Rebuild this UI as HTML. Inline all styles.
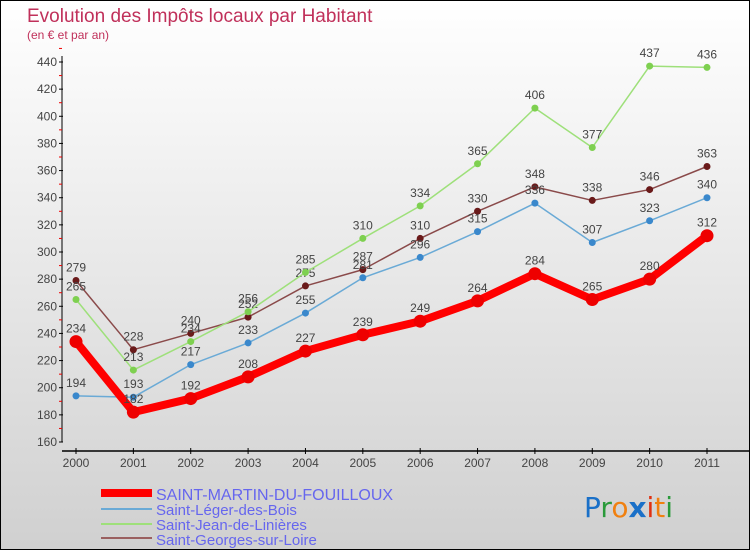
<!DOCTYPE html>
<html><head><meta charset="utf-8"><style>
body{margin:0}
#c{width:748px;height:548px;border:1px solid #000;background:linear-gradient(#fff,#d0d0d0);position:relative;font-family:"Liberation Sans",sans-serif;overflow:hidden}
</style></head><body>
<div id="c">
<svg id="s" width="748" height="548" style="position:absolute;left:0;top:0">
<text x="26" y="21" font-size="19" fill="#c0305a">Evolution des Impôts locaux par Habitant</text>
<text x="26" y="38" font-size="12" fill="#c0305a">(en € et par an)</text>
<g id="axes"></g><g id="series"></g>
<g>
<line x1="100" y1="492" x2="151" y2="492" stroke="#f00" stroke-width="8"/>
<text x="155" y="499" font-size="16" fill="#6666ee">SAINT-MARTIN-DU-FOUILLOUX</text>
<line x1="100" y1="508" x2="151" y2="508" stroke="#6aaad6" stroke-width="2"/>
<text x="155" y="514" font-size="15" fill="#6666ee">Saint-Léger-des-Bois</text>
<line x1="100" y1="523" x2="151" y2="523" stroke="#9ee07a" stroke-width="2"/>
<text x="155" y="529" font-size="15" fill="#6666ee">Saint-Jean-de-Linières</text>
<line x1="100" y1="537" x2="151" y2="537" stroke="#9a6060" stroke-width="2"/>
<text x="155" y="544" font-size="15" fill="#6666ee">Saint-Georges-sur-Loire</text>
</g>
<g font-size="28" font-family="'DejaVu Sans',sans-serif">
<text x="583" y="516"><tspan fill="#1a70c8">P</tspan><tspan fill="#2a9a3a">r</tspan><tspan fill="#f08010">o</tspan><tspan fill="#1a70c8" font-weight="bold">x</tspan><tspan fill="#e03010">i</tspan><tspan fill="#f08010">t</tspan><tspan fill="#2a9a3a">i</tspan></text>
</g>
</svg>
</div>
<script>
const years=["2000","2001","2002","2003","2004","2005","2006","2007","2008","2009","2010","2011"];
const yTicks=[160,180,200,220,240,260,280,300,320,340,360,380,400,420,440];
const martin=[234,182,192,208,227,239,249,264,284,265,280,312];
const leger=[194,193,217,233,255,281,296,315,336,307,323,340];
const jean=[265,213,234,256,285,310,334,365,406,377,437,436];
const georges=[279,228,240,252,275,287,310,330,348,338,346,363];
const NS="http://www.w3.org/2000/svg";
const X=i=>75+i*(706-75)/11;
const Y=v=>441-(v-160)*(441-61)/280;
function mk(t,a,p){const e=document.createElementNS(NS,t);for(const k in a)e.setAttribute(k,a[k]);p.appendChild(e);return e;}
const ax=document.getElementById('axes');
const yl=mk('line',{x1:61,y1:55,x2:61,y2:441,stroke:'#000'},ax);


yTicks.forEach(v=>{mk('line',{x1:58,x2:62,y1:Y(v),y2:Y(v),stroke:'#000'},ax);
mk('line',{x1:58,x2:61,y1:Y(v+10),y2:Y(v+10),stroke:'#e00'},ax);
const t=mk('text',{x:56,y:Y(v)+4,'font-size':12,'text-anchor':'end',fill:'#444'},ax);t.textContent=v;

});
const xl=mk('line',{x1:61,y1:450,x2:748,y2:450,stroke:'#000','stroke-width':1.5},ax);


years.forEach((y,i)=>{mk('line',{x1:X(i),x2:X(i),y1:447,y2:453,stroke:'#000'},ax);
const t=mk('text',{x:X(i),y:466,'font-size':12,'text-anchor':'middle',fill:'#444'},ax);t.textContent=y;

});
const sg=document.getElementById('series');
function series(d,col,dot,w,r,name){
const g=mk('g',{},sg);


mk('polyline',{points:d.map((v,i)=>X(i)+','+Y(v)).join(' '),fill:'none',stroke:col,'stroke-width':w,'stroke-linejoin':'round'},g);
d.forEach((v,i)=>{const c=mk('circle',{cx:X(i),cy:Y(v),r:r,fill:dot},g);


const t=mk('text',{x:X(i),y:Y(v)-9,'font-size':12,'text-anchor':'middle',fill:'#444'},g);t.textContent=v;});}
series(georges,'#8a4a4a','#6a1a1a',1.5,3.5,'series-georges');
series(jean,'#9ee07a','#7ed050',1.5,3.5,'series-jean');
series(leger,'#6aaad6','#3a88cc',1.5,3.5,'series-leger');
series(martin,'#f00','#e00',8,6.5,'series-martin');
</script>
</body></html>
